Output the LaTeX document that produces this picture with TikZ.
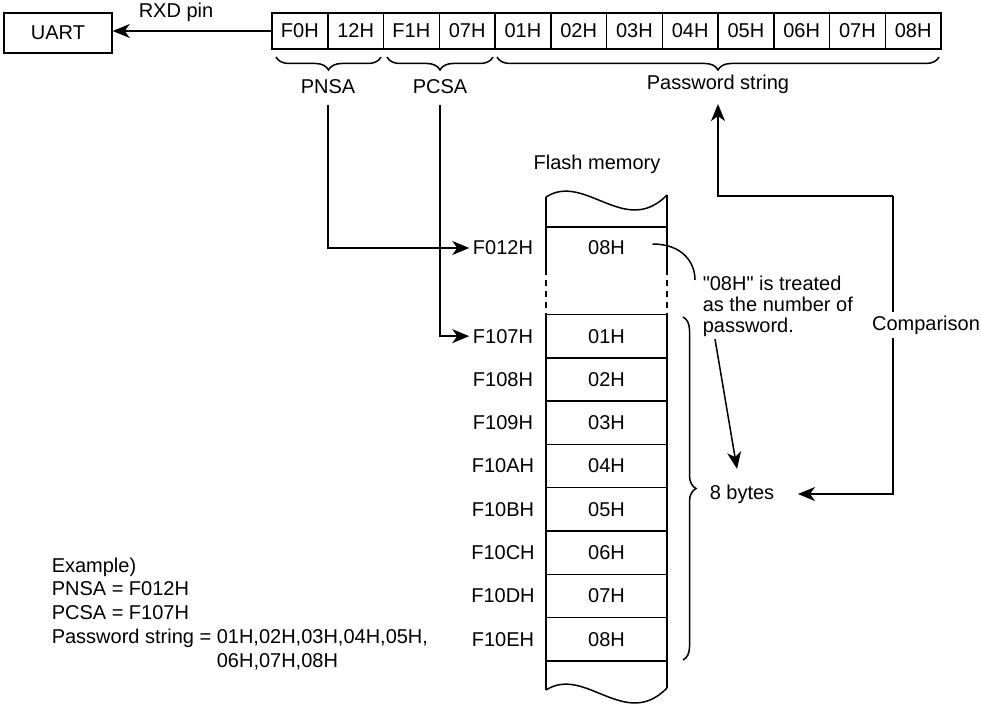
\documentclass[tikz,border=0pt]{standalone}
\usepackage{fontspec}
\setmainfont{Liberation Sans}[Ligatures=TeXOff]
\usetikzlibrary{arrows.meta, calc, decorations.pathreplacing}

\begin{document}
\begin{tikzpicture}[x=1pt, y=-1pt,
    font=\fontsize{20}{24}\selectfont,
    line width=1.5pt, inner sep=3pt,
    arr/.style={-{Stealth[length=17pt, width=14pt, inset=5pt]}},
    bytecell/.style={draw, minimum width=55.75pt, minimum height=36pt, inner sep=0pt},
    memcell/.style={draw, minimum width=121pt, minimum height=43.3pt, inner sep=0pt},
    brlabel/.style={inner sep=10pt},
    brc/.style={decorate, decoration={brace, amplitude=13pt}},
    brcdown/.style={brc, decoration={mirror}}]
    \useasboundingbox (0,0) rectangle (981,708);

    % UART and the bytes on the RXD pin
    \node[draw, minimum width=108pt, minimum height=40pt] (uart) at (58,33) {UART};
    \foreach \v [count=\i from 0] in {F0H,12H,F1H,07H,01H,02H,03H,04H,05H,06H,07H,08H}
        \node[bytecell] (b\i) at ({272+55.75*(\i+0.5)},31) {\v};
    \draw[arr] (b0.west) -- (b0.west -| uart.east);
    \node (rxd) at (176,12) {RXD pin};

    % Braces under the byte row
    \draw[brcdown] (276,57) -- (381,57);
    \draw[brcdown] (387,57) -- (493,57);
    \draw[brcdown] (497,57) -- (939,57);
    \node[brlabel] (pnsa) at (328,87) {PNSA};
    \node[brlabel] (pcsa) at (440,87) {PCSA};
    \node[brlabel] (pwd) at (718,84) {Password string};

    % Flash memory outline
    \node (flash) at (597,164) {Flash memory};
    \draw (546,197) .. controls (585,172) and (625,238) .. (667,195);
    \draw (546,197) -- (546,269) (667,195) -- (667,269);
    \draw[dash pattern=on 6pt off 5pt] (546,269) -- (546,314) (667,269) -- (667,314);
    \draw (546,314) -- (546,690) (667,314) -- (667,688);
    \draw (546,690) .. controls (585,665) and (625,731) .. (667,688);
    \draw (546,227) -- (667,227);

    % Memory cells and addresses
    \node (mtop) at (606.5,248) {08H};
    \node (atop) at (503,248) {F012H};
    \foreach \v [count=\i from 0] in {01H,02H,03H,04H,05H,06H,07H,08H}
        \node[memcell] (m\i) at (606.5,{314.5+43.3*(\i+0.5)}) {\v};
    \foreach \a [count=\i from 0] in {F107H,F108H,F109H,F10AH,F10BH,F10CH,F10DH,F10EH}
        \node (a\i) at (503,{314.5+43.3*(\i+0.5)}) {\a};

    % Pointers to the addresses
    \draw[arr] (pnsa.south) |- (atop.west);
    \draw[arr] (pcsa.south) |- (a0.west);

    % Number of password bytes
    \draw[brc] (683,317) -- (683,660);
    \node (bytes) at (742,494) {8 bytes};
    \node[anchor=north west, align=left, inner sep=2pt,
          font=\fontsize{20}{21}\selectfont] (note) at (700,273)
          {"08H" is treated\\as the number of\\password.};
    \draw ($(mtop.center)+(46,-4)$) .. controls (682,244) and (695,262) .. ($(note.north west)+(-5,7)$);
    \draw[arr] ($(note.south west)+(15,0)$) -- ($(bytes.north)+(-5,-12)$);

    % Comparison loop
    \coordinate (turn) at (893,196);
    \draw[arr] (turn) -| (pwd.south);
    \draw[arr] (turn) |- ([xshift=20pt]bytes.east);
    \node[fill=white, inner sep=4pt] (cmp) at (926,325) {Comparison};

    % Example
    \node[anchor=north west, align=left, inner sep=0pt,
          font=\fontsize{20}{23.75}\selectfont] (example) at (51,557)
          {Example)\\PNSA = F012H\\PCSA = F107H\\Password string = 01H,02H,03H,04H,05H,\\
           \phantom{Password string = }06H,07H,08H};
\end{tikzpicture}
\end{document}
